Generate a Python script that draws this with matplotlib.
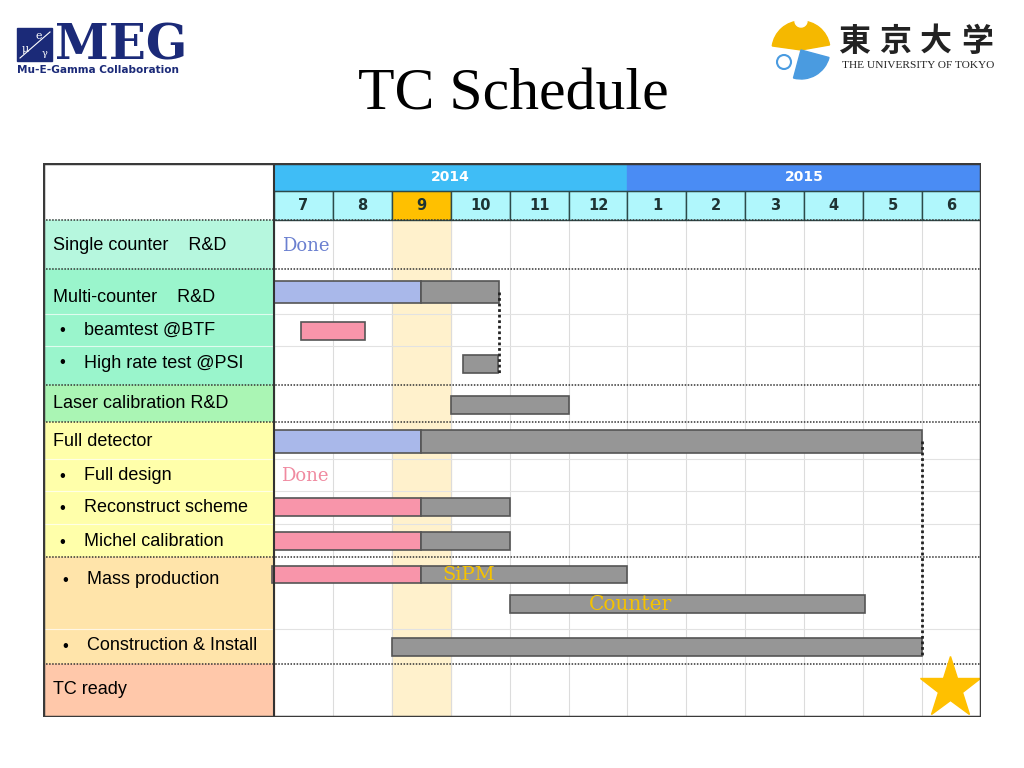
import numpy as np
import matplotlib.pyplot as plt
from matplotlib.patches import Rectangle, Wedge, Circle

# ---- chart data ----
years = ['2014', '2015']
year_span = [6, 6]
months = ['7', '8', '9', '10', '11', '12', '1', '2', '3', '4', '5', '6']
now_month = 2   # column "9" is highlighted

row_labels = ['Single counter    R&D', 'Multi-counter    R&D', 'beamtest @BTF',
              'High rate test @PSI', 'Laser calibration R&D', 'Full detector',
              'Full design', 'Reconstruct scheme', 'Michel calibration',
              'Mass production', 'Construction & Install', 'TC ready']
row_bullet = [False, False, True, True, False, False, True, True, True, True, True, False]
row_fill = ['#b6f7de', '#9af5cc', '#9af5cc', '#9af5cc', '#aaf5b4', '#ffffaa',
            '#ffffaa', '#ffffaa', '#ffffaa', '#ffe4aa', '#ffe4aa', '#ffc8aa']

# bars: start month, end of finished part, planned end (months from Jul 2014)
bar_names = ['Multi-counter', 'beamtest', 'High rate', 'Laser', 'Full detector',
             'Reconstruct', 'Michel', 'SiPM', 'Counter', 'Construction']
bar_start = [0.0, 0.46, 3.2, 3.0, 0.0, 0.0, 0.0, -0.03, 4.0, 2.0]
bar_done = [2.5, 1.55, 3.2, 3.0, 2.5, 2.5, 2.5, 2.5, 4.0, 2.0]
bar_end = [3.82, 1.55, 3.8, 5.0, 11.0, 4.0, 4.0, 6.0, 10.03, 11.0]
bar_done_col = ['#a9b8ea', '#f895aa', '#f895aa', '#f895aa', '#a9b8ea',
                '#f895aa', '#f895aa', '#f895aa', '#f895aa', '#f895aa']

# ---- layout (pixel rows of the table) ----
row_edges = [220, 269, 314, 346, 385, 422, 459, 491, 524, 557, 629, 664, 717]
label_y = [246, 297, 330, 363, 404, 442, 476, 508, 542, 580, 646, 690]
group_lines = [220, 269, 385, 422, 557, 664]
sub_lines = [314, 346, 459, 491, 524, 629]
bar_y = [292, 331, 364, 405, 441, 507, 541, 574, 604, 647]
bar_h = [22, 18, 18, 18, 23, 18, 18, 17, 18, 18]
lab_left = -3.92

fig = plt.figure(figsize=(10.24, 7.68), dpi=100)

# background / logos / title layer in pixel units
bg = fig.add_axes([0, 0, 1, 1])
bg.set_xlim(0, 1024)
bg.set_ylim(768, 0)
bg.axis('off')

navy = '#1b2a78'
bg.add_patch(Rectangle((17, 28), 35, 33, color=navy))
bg.plot([20, 50], [58, 32], color='white', lw=0.8)
bg.text(39, 36, 'e', color='white', fontsize=8, ha='center', va='center', family='DejaVu Serif')
bg.text(25, 49, 'μ', color='white', fontsize=8, ha='center', va='center', family='DejaVu Serif')
bg.text(45, 54, 'γ', color='white', fontsize=7, ha='center', va='center', family='DejaVu Serif')
bg.text(55, 60, 'MEG', color=navy, fontsize=35, fontweight='bold',
        family='DejaVu Serif', ha='left', va='baseline')
bg.text(17, 70, 'Mu-E-Gamma Collaboration', color=navy, fontsize=7.6,
        fontweight='bold', family='DejaVu Sans', ha='left', va='center')

bg.add_patch(Wedge((801, 50), 29, 188, 350, color='#f5b800'))
bg.add_patch(Wedge((801, 50), 29, 15, 105, color='#4a9be0'))
bg.add_patch(Wedge((801, 21), 6, 0, 360, color='white'))
bg.add_patch(Circle((784, 62), 7, facecolor='white', edgecolor='#4a9be0', lw=1.5))
for i, ch in enumerate('東京大学'):
    bg.text(854 + i * 41, 42, ch, fontsize=23, fontweight='bold', color='#222222',
            family='Noto Sans CJK JP', ha='center', va='center')
bg.text(918, 66, 'THE UNIVERSITY OF TOKYO', fontsize=8.2, color='#222222',
        family='Liberation Serif', ha='center', va='center')

bg.text(513, 110, 'TC Schedule', fontsize=43, family='Liberation Serif',
        ha='center', va='baseline', color='black')

# the schedule table: x in months, y in table pixels
ax = fig.add_axes([43 / 1024, 1 - 717 / 768, (981 - 43) / 1024, (717 - 163) / 768])
ax.set_xlim(lab_left, 12)
ax.set_ylim(717, 163)
ax.axis('off')

# header
x0 = 0
for yr, n, col in zip(years, year_span, ['#3fbdf6', '#4a8cf4']):
    ax.add_patch(Rectangle((x0, 163), n, 28, color=col, zorder=1))
    ax.text(x0 + n / 2, 177, yr, color='white', fontsize=10, fontweight='bold',
            ha='center', va='center', family='DejaVu Sans')
    x0 += n
for i, m in enumerate(months):
    col = '#ffc000' if i == now_month else '#b0f7fc'
    ax.add_patch(Rectangle((i, 191), 1, 29, facecolor=col, edgecolor='#2c4a4a',
                           lw=1, zorder=1))
    ax.text(i + 0.5, 205, m, color='#1e3333', fontsize=10.5, fontweight='bold',
            ha='center', va='center', family='DejaVu Sans')

# highlighted month column
ax.add_patch(Rectangle((now_month, 220), 1, 497, color='#fff1cc', zorder=0))

# label column
for i, lab in enumerate(row_labels):
    ax.add_patch(Rectangle((lab_left, row_edges[i]), -lab_left, row_edges[i + 1] - row_edges[i],
                           color=row_fill[i], zorder=1))
    if row_bullet[i]:
        off = 0.05 if i >= 9 else 0.0
        ax.text(-3.6 + off, label_y[i], '•', fontsize=12, ha='center', va='center',
                family='Liberation Sans')
        ax.text(-3.22 + off, label_y[i], lab, fontsize=13, ha='left', va='center',
                family='Liberation Sans', zorder=3)
    else:
        ax.text(-3.75, label_y[i], lab, fontsize=13, ha='left', va='center',
                family='Liberation Sans', zorder=3)

# grid
for k in range(1, 12):
    ax.plot([k, k], [220, 717], color='#dcdcdc', lw=0.8, zorder=0.5)
for y in sub_lines:
    ax.plot([0, 12], [y, y], color='#e2e2e2', lw=0.8, zorder=0.5)
    ax.plot([lab_left, 0], [y, y], color='white', lw=0.8, alpha=0.7, zorder=1.5)
for y in group_lines:
    ax.plot([lab_left, 12], [y, y], color='#333333', lw=1.1, ls=(0, (1, 1)), zorder=2)
ax.plot([0, 0], [163, 717], color='#333333', lw=1.5, zorder=4)
ax.plot([0, 12], [191, 191], color='#2c4a4a', lw=0.8, zorder=2)

# bars
for i in range(len(bar_names)):
    if bar_done[i] > bar_start[i]:
        ax.barh(bar_y[i], bar_done[i] - bar_start[i], left=bar_start[i], height=bar_h[i],
                color=bar_done_col[i], edgecolor='#555555', lw=1.2, zorder=3)
    if bar_end[i] > bar_done[i]:
        ax.barh(bar_y[i], bar_end[i] - bar_done[i], left=bar_done[i], height=bar_h[i],
                color='#969696', edgecolor='#555555', lw=1.2, zorder=3)

# dotted links: multi-counter -> high rate test, full detector -> construction
for a, b in [(0, 2), (4, 9)]:
    ax.plot([bar_end[a], bar_end[a]], [bar_y[a], bar_y[b] + bar_h[b] / 2],
            color='#222222', lw=2, ls=(0, (1, 1)), zorder=4)

# annotations
ax.text(0.13, label_y[0], 'Done', color='#6b80d0', fontsize=13, family='DejaVu Serif',
        ha='left', va='center', zorder=5)
ax.text(0.12, label_y[6], 'Done', color='#f08aa0', fontsize=13, family='DejaVu Serif',
        ha='left', va='center', zorder=5)
ax.text(3.3, bar_y[7] + 1, 'SiPM', color='#f5c200', fontsize=14, family='DejaVu Serif',
        ha='center', va='center', zorder=5)
ax.text(6.05, bar_y[8] + 1, 'Counter', color='#f5c200', fontsize=14.5, family='DejaVu Serif',
        ha='center', va='center', zorder=5)
ax.plot([11.47], [688], marker='*', ms=46, color='#ffc000', mec='#ffc000', zorder=5)

# outer frame
ax.add_patch(Rectangle((lab_left, 163), 12 - lab_left, 554, fill=False,
                       edgecolor='#3a3a3a', lw=2.5, zorder=6))

fig.savefig('out.png', dpi=100)
